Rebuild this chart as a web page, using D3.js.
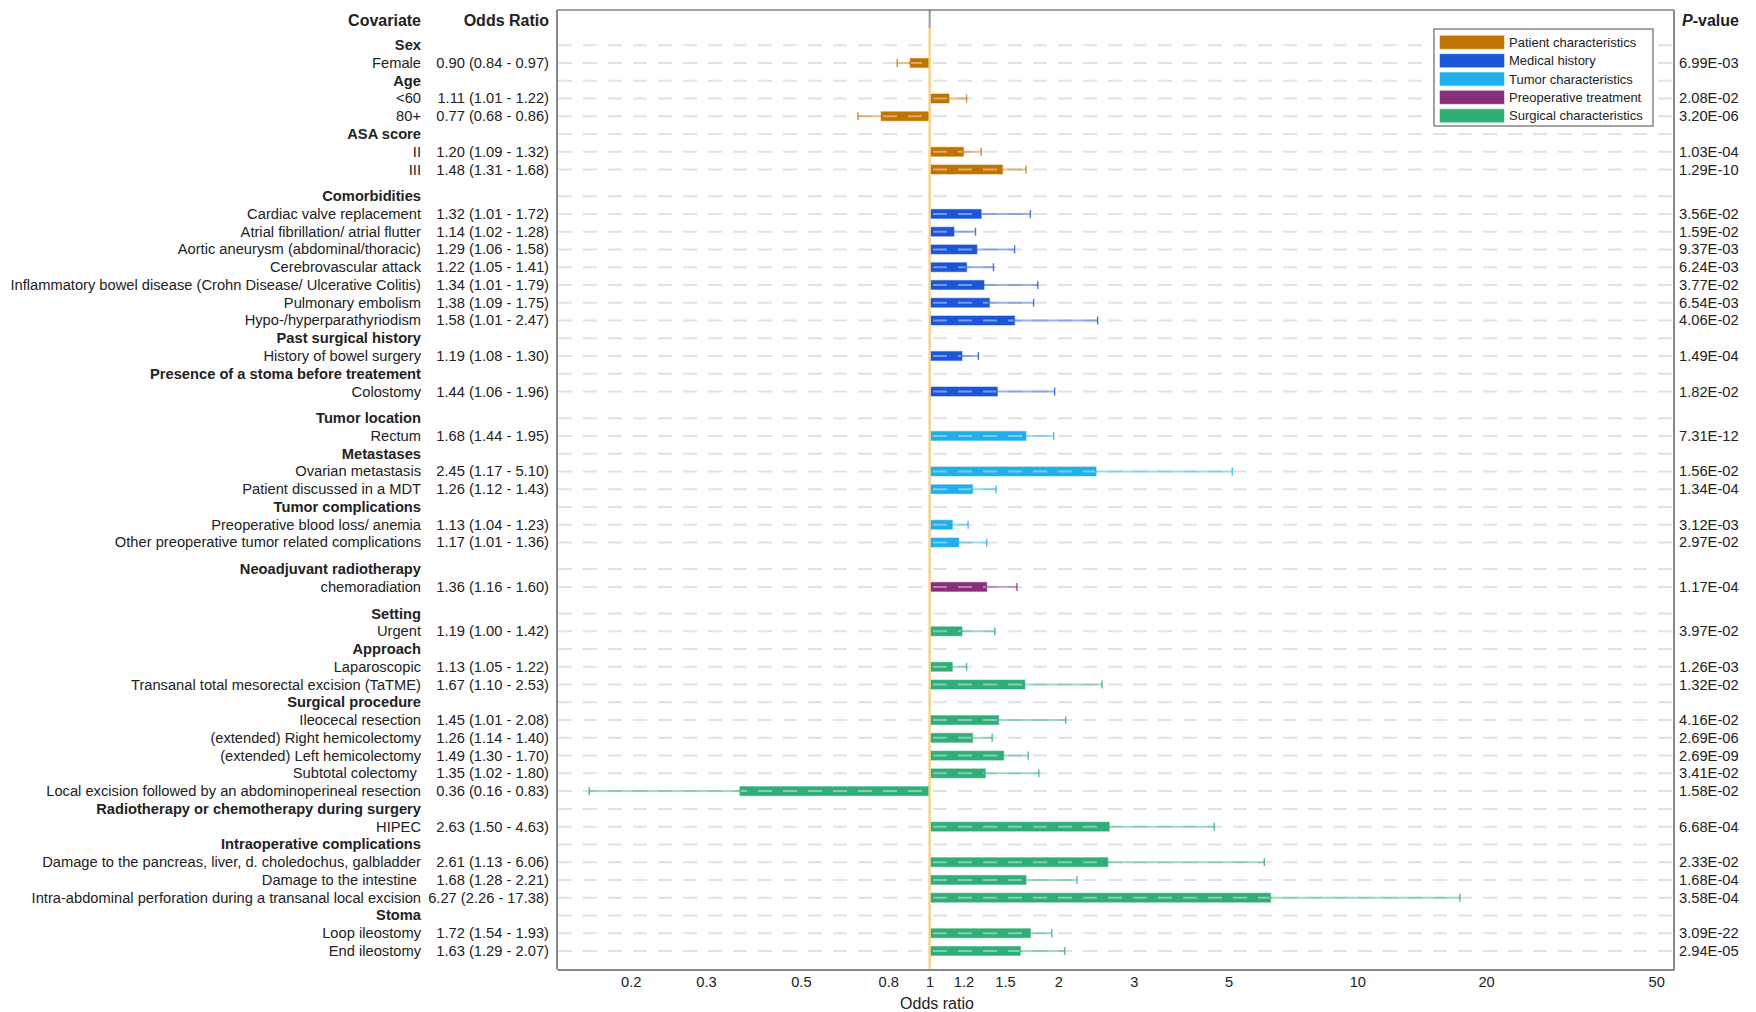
<!DOCTYPE html>
<html>
<head>
<meta charset="utf-8">
<script src="https://cdn.jsdelivr.net/npm/d3@7"></script>
<style>
  html, body { margin: 0; padding: 0; background: #fff; }
  svg { display: block; font-family: "Liberation Sans", Arial, sans-serif; }
</style>
</head>
<body>
<svg id="chart" width="1756" height="1012"></svg>
<script>
// ---------------- DATA ----------------
const categories = ["Patient characteristics", "Medical history", "Tumor characteristics",
                    "Preoperative treatment", "Surgical characteristics"];

const rowLabels = [
  "Sex", "Female", "Age", "<60", "80+", "ASA score", "II", "III",
  "Comorbidities", "Cardiac valve replacement", "Atrial fibrillation/ atrial flutter",
  "Aortic aneurysm (abdominal/thoracic)", "Cerebrovascular attack",
  "Inflammatory bowel disease (Crohn Disease/ Ulcerative Colitis)", "Pulmonary embolism",
  "Hypo-/hyperparathyriodism", "Past surgical history", "History of bowel surgery",
  "Presence of a stoma before treatement", "Colostomy",
  "Tumor location", "Rectum", "Metastases", "Ovarian metastasis", "Patient discussed in a MDT",
  "Tumor complications", "Preoperative blood loss/ anemia", "Other preoperative tumor related complications",
  "Neoadjuvant radiotherapy", "chemoradiation",
  "Setting", "Urgent", "Approach", "Laparoscopic", "Transanal total mesorectal excision (TaTME)",
  "Surgical procedure", "Ileocecal resection", "(extended) Right hemicolectomy",
  "(extended) Left hemicolectomy", "Subtotal colectomy ",
  "Local excision followed by an abdominoperineal resection",
  "Radiotherapy or chemotherapy during surgery", "HIPEC",
  "Intraoperative complications", "Damage to the pancreas, liver, d. choledochus, galbladder",
  "Damage to the intestine ", "Intra-abdominal perforation during a transanal local excision",
  "Stoma", "Loop ileostomy", "End ileostomy"
];

// category index of each row
const rowCategory = [
  0,0,0,0,0,0,0,0,
  1,1,1,1,1,1,1,1,1,1,1,1,
  2,2,2,2,2,2,2,2,
  3,3,
  4,4,4,4,4,4,4,4,4,4,4,4,4,4,4,4,4,4,4,4
];

// null = subgroup heading row
const oddsRatio = [
  null, 0.90, null, 1.11, 0.77, null, 1.20, 1.48,
  null, 1.32, 1.14, 1.29, 1.22, 1.34, 1.38, 1.58, null, 1.19, null, 1.44,
  null, 1.68, null, 2.45, 1.26, null, 1.13, 1.17,
  null, 1.36,
  null, 1.19, null, 1.13, 1.67, null, 1.45, 1.26, 1.49, 1.35, 0.36, null, 2.63,
  null, 2.61, 1.68, 6.27, null, 1.72, 1.63
];
const ciLower = [
  null, 0.84, null, 1.01, 0.68, null, 1.09, 1.31,
  null, 1.01, 1.02, 1.06, 1.05, 1.01, 1.09, 1.01, null, 1.08, null, 1.06,
  null, 1.44, null, 1.17, 1.12, null, 1.04, 1.01,
  null, 1.16,
  null, 1.00, null, 1.05, 1.10, null, 1.01, 1.14, 1.30, 1.02, 0.16, null, 1.50,
  null, 1.13, 1.28, 2.26, null, 1.54, 1.29
];
const ciUpper = [
  null, 0.97, null, 1.22, 0.86, null, 1.32, 1.68,
  null, 1.72, 1.28, 1.58, 1.41, 1.79, 1.75, 2.47, null, 1.30, null, 1.96,
  null, 1.95, null, 5.10, 1.43, null, 1.23, 1.36,
  null, 1.60,
  null, 1.42, null, 1.22, 2.53, null, 2.08, 1.40, 1.70, 1.80, 0.83, null, 4.63,
  null, 6.06, 2.21, 17.38, null, 1.93, 2.07
];
const pValues = [
  "", "6.99E-03", "", "2.08E-02", "3.20E-06", "", "1.03E-04", "1.29E-10",
  "", "3.56E-02", "1.59E-02", "9.37E-03", "6.24E-03", "3.77E-02", "6.54E-03", "4.06E-02", "", "1.49E-04", "", "1.82E-02",
  "", "7.31E-12", "", "1.56E-02", "1.34E-04", "", "3.12E-03", "2.97E-02",
  "", "1.17E-04",
  "", "3.97E-02", "", "1.26E-03", "1.32E-02", "", "4.16E-02", "2.69E-06", "2.69E-09", "3.41E-02", "1.58E-02", "", "6.68E-04",
  "", "2.33E-02", "1.68E-04", "3.58E-04", "", "3.09E-22", "2.94E-05"
];

const tickValues = [0.2, 0.3, 0.5, 0.8, 1, 1.2, 1.5, 2, 3, 5, 10, 20, 50];

// ---------------- STYLE / LAYOUT ----------------
const categoryColors = ["#c07300", "#1b55d8", "#20afea", "#8a2e7b", "#2fae78"];
const plot = { left: 557, right: 1674, top: 10, bottom: 969.5 };
const firstRowY = 45.2, rowStep = 17.76, groupGap = 0.5;
const labelX = 421, orX = 549, pX = 1679;
const bodyFont = 14.7;

const svg = d3.select("#chart");

const x = d3.scaleLog().domain([0.1345, 55]).range([plot.left, plot.right]);
const slot = rowLabels.map((d, i) => i + groupGap * rowCategory[i]);
const y = d3.scaleLinear().domain([0, 1]).range([firstRowY, firstRowY + rowStep]);
const rowY = i => y(slot[i]);
const fmt = d3.format(".2f");
const isHeader = i => oddsRatio[i] === null;

// dashed gridlines (under marks)
const dash = "14,11";
const gridStart = plot.left + 1;
svg.append("g").selectAll("line").data(rowLabels).join("line")
  .attr("x1", gridStart).attr("x2", plot.right - 1)
  .attr("y1", (d, i) => rowY(i)).attr("y2", (d, i) => rowY(i))
  .attr("stroke", "#e2e2e2").attr("stroke-width", 2)
  .attr("stroke-dasharray", dash);

const rows = rowLabels.map((d, i) => i).filter(i => !isHeader(i));

// whiskers (from OR to the CI bound away from 1)
const gW = svg.append("g");
rows.forEach(i => {
  const c = categoryColors[rowCategory[i]];
  const end = oddsRatio[i] >= 1 ? ciUpper[i] : ciLower[i];
  gW.append("line")
    .attr("x1", x(oddsRatio[i])).attr("x2", x(end))
    .attr("y1", rowY(i)).attr("y2", rowY(i))
    .attr("stroke", c).attr("stroke-opacity", 0.45).attr("stroke-width", 2);
  gW.append("line")
    .attr("x1", x(end)).attr("x2", x(end))
    .attr("y1", rowY(i) - 4).attr("y2", rowY(i) + 4)
    .attr("stroke", c).attr("stroke-opacity", 0.8).attr("stroke-width", 1.4);
});

// bars from 1 to OR
const barH = 9;
svg.append("g").selectAll("rect").data(rows).join("rect")
  .attr("x", i => Math.min(x(1), x(oddsRatio[i])))
  .attr("width", i => Math.abs(x(oddsRatio[i]) - x(1)))
  .attr("y", i => rowY(i) - barH / 2)
  .attr("height", barH)
  .attr("fill", i => categoryColors[rowCategory[i]])
  .attr("stroke", i => categoryColors[rowCategory[i]])
  .attr("stroke-opacity", 0.45).attr("stroke-width", 1.2);

// grid dashes seen through the bars
svg.append("g").selectAll("line").data(rows).join("line")
  .attr("x1", i => Math.min(x(1), x(oddsRatio[i])) + 1)
  .attr("x2", i => Math.max(x(1), x(oddsRatio[i])) - 1)
  .attr("y1", i => rowY(i)).attr("y2", i => rowY(i))
  .attr("stroke", "#ffffff").attr("stroke-opacity", 0.4).attr("stroke-width", 2)
  .attr("stroke-dasharray", dash)
  .attr("stroke-dashoffset", i => Math.min(x(1), x(oddsRatio[i])) + 1 - gridStart);

// reference line at OR = 1
svg.append("line").attr("x1", x(1)).attr("x2", x(1))
  .attr("y1", 28).attr("y2", plot.bottom)
  .attr("stroke", "#f6d38a").attr("stroke-width", 2.5);
svg.append("line").attr("x1", x(1)).attr("x2", x(1))
  .attr("y1", plot.top).attr("y2", 28)
  .attr("stroke", "#999").attr("stroke-width", 2);

// frame
svg.append("line").attr("x1", plot.left).attr("x2", plot.right).attr("y1", plot.top).attr("y2", plot.top)
  .attr("stroke", "#444").attr("stroke-width", 1.2);
svg.append("line").attr("x1", plot.left).attr("x2", plot.left).attr("y1", plot.top).attr("y2", plot.bottom)
  .attr("stroke", "#888").attr("stroke-width", 2);
svg.append("line").attr("x1", plot.right).attr("x2", plot.right).attr("y1", plot.top).attr("y2", plot.bottom)
  .attr("stroke", "#888").attr("stroke-width", 2);

// x axis
const axis = svg.append("g").attr("transform", `translate(0,${plot.bottom})`)
  .call(d3.axisBottom(x).tickValues(tickValues).tickFormat(d3.format("~g")).tickSize(0).tickPadding(7));
axis.select(".domain").attr("stroke", "#888").attr("stroke-width", 2);
axis.selectAll("text").attr("font-size", bodyFont).attr("fill", "#222")
  .attr("font-family", "Liberation Sans, Arial, sans-serif");
svg.append("text").attr("x", 937).attr("y", 1003.5)
  .attr("text-anchor", "middle").attr("dominant-baseline", "central")
  .attr("font-size", 16).attr("fill", "#222").text("Odds ratio");

// column headers
const hdr = svg.append("g").attr("font-weight", "bold").attr("font-size", 16).attr("fill", "#222")
  .attr("dominant-baseline", "central");
hdr.append("text").attr("x", labelX).attr("y", 20).attr("text-anchor", "end").text("Covariate");
hdr.append("text").attr("x", orX).attr("y", 20).attr("text-anchor", "end").text("Odds Ratio");
const pH = hdr.append("text").attr("x", pX + 3).attr("y", 20);
pH.append("tspan").attr("font-style", "italic").text("P");
pH.append("tspan").text("-value");

// row labels
svg.append("g").selectAll("text").data(rowLabels).join("text")
  .attr("x", labelX).attr("y", (d, i) => rowY(i))
  .attr("text-anchor", "end").attr("dominant-baseline", "central")
  .attr("font-size", bodyFont).attr("fill", "#222")
  .attr("font-weight", (d, i) => isHeader(i) ? "bold" : "normal")
  .style("white-space", "pre")
  .text(d => d);

// odds ratio text
svg.append("g").selectAll("text").data(rows).join("text")
  .attr("x", orX).attr("y", i => rowY(i))
  .attr("text-anchor", "end").attr("dominant-baseline", "central")
  .attr("font-size", bodyFont).attr("fill", "#222")
  .text(i => `${fmt(oddsRatio[i])} (${fmt(ciLower[i])} - ${fmt(ciUpper[i])})`);

// p-values
svg.append("g").selectAll("text").data(rows).join("text")
  .attr("x", pX).attr("y", i => rowY(i))
  .attr("dominant-baseline", "central")
  .attr("font-size", bodyFont).attr("fill", "#222")
  .text(i => pValues[i]);

// legend
const lg = svg.append("g");
lg.append("rect").attr("x", 1434).attr("y", 29).attr("width", 219).attr("height", 97)
  .attr("fill", "#fff").attr("stroke", "#666").attr("stroke-width", 1.2);
const item = lg.selectAll("g.item").data(categories).join("g").attr("class", "item")
  .attr("transform", (d, i) => `translate(1440,${42.3 + i * 18.35})`);
item.append("rect").attr("x", 0).attr("y", -6.5).attr("width", 64).attr("height", 13)
  .attr("fill", (d, i) => categoryColors[i])
  .attr("stroke", (d, i) => categoryColors[i]).attr("stroke-opacity", 0.4).attr("stroke-width", 1.2);
item.append("text").attr("x", 69).attr("y", 0).attr("dominant-baseline", "central")
  .attr("font-size", 13).attr("fill", "#222").text(d => d);
</script>
</body>
</html>
